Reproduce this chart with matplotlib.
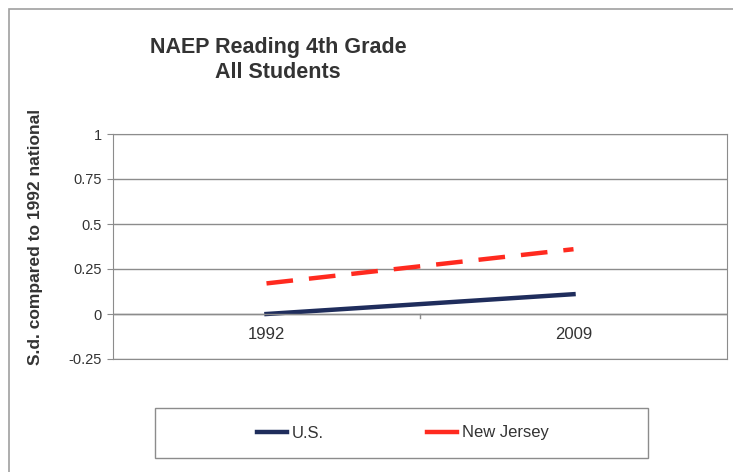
import matplotlib.pyplot as plt
from matplotlib.patches import Rectangle

plt.rcParams['font.family'] = ['Liberation Sans', 'DejaVu Sans']

years = ['1992', '2009']
us = [0.0, 0.11]
nj = [0.17, 0.36]
yticks = [-0.25, 0, 0.25, 0.5, 0.75, 1]
ytick_labels = ['-0.25', '0', '0.25', '0.5', '0.75', '1']

W, H = 733, 472
fig = plt.figure(figsize=(W / 100, H / 100), dpi=100)

# outer chart border
fig.patches.append(Rectangle((9 / W, -0.02), 1.1, (H - 9) / H + 0.02,
                             transform=fig.transFigure, fill=False,
                             edgecolor='#a0a0a0', linewidth=1.2))

ax = fig.add_axes([113 / W, (H - 359) / H, (727 - 113) / W, (359 - 134) / H])
x = list(range(len(years)))

ax.plot(x, us, color='#1f2d5c', linewidth=3.2, label='U.S.')
ax.plot(x, nj, color='#ff2a1f', linewidth=3.2, dashes=(6, 3.6), label='New Jersey')

ax.set_xlim(-0.5, len(years) - 0.5)
ax.set_ylim(-0.25, 1)
ax.set_yticks(yticks)
ax.set_yticklabels(ytick_labels, fontsize=10.5, color='#333333')
ax.yaxis.grid(True, color='#8c8c8c', linewidth=1)
ax.set_axisbelow(True)
for s in ax.spines.values():
    s.set_color('#8c8c8c')
ax.tick_params(axis='y', length=4, color='#8c8c8c', pad=4)

# category axis crossing at zero
ax.set_xticks([])
ax.axhline(0, color='#8c8c8c', linewidth=1)
ax.plot([0.5, 0.5], [0, -0.02], color='#8c8c8c', linewidth=1)
for xi, lab in zip(x, years):
    ax.text(xi, -0.115, lab, ha='center', va='center', fontsize=12, color='#333333')

ax.set_ylabel('S.d. compared to 1992 national', fontsize=12.5, fontweight='bold', color='#333333')
ax.yaxis.set_label_coords(43 / W, (H - 237) / H, transform=fig.transFigure)

fig.text(278 / W, (H - 47) / H, 'NAEP Reading 4th Grade', ha='center', va='center',
         fontsize=15.5, fontweight='bold', color='#333333')
fig.text(278 / W, (H - 72) / H, 'All Students', ha='center', va='center',
         fontsize=15.5, fontweight='bold', color='#333333')

# legend box
fig.patches.append(Rectangle((155 / W, (H - 458) / H), (648 - 155) / W, 50 / H,
                             transform=fig.transFigure, fill=False,
                             edgecolor='#8c8c8c', linewidth=1))
leg = fig.legend(loc='center', bbox_to_anchor=(403 / W, (H - 433) / H),
                 ncol=2, frameon=False, fontsize=12, handlelength=1.8,
                 columnspacing=6.2, handletextpad=0.3, borderaxespad=0)
for h in leg.get_lines():
    h.set_linestyle('-')
for t in leg.get_texts():
    t.set_color('#333333')

fig.savefig('out.png', dpi=100)
